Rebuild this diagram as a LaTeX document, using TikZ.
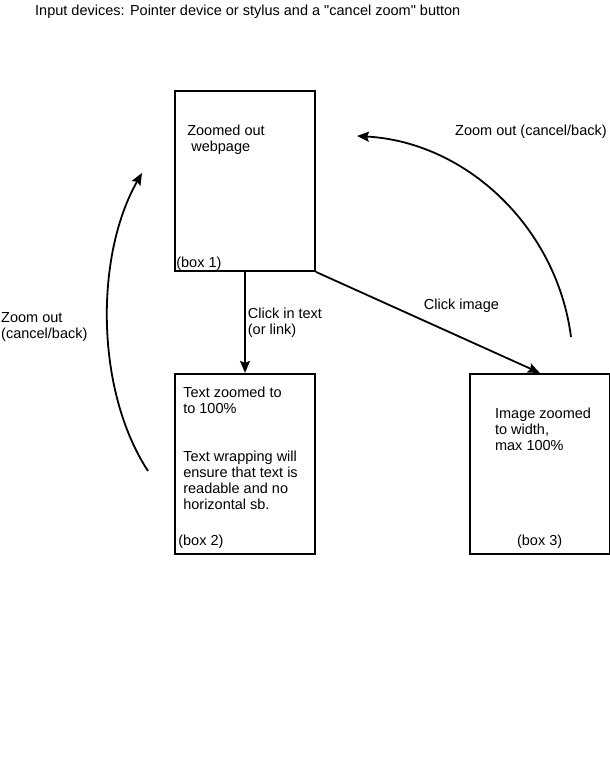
\documentclass[tikz,border=0pt]{standalone}
\usepackage{fontspec}
\setmainfont{Liberation Sans}[Ligatures=TeXOff]
\usetikzlibrary{arrows.meta, positioning}

\begin{document}
\begin{tikzpicture}[x=1pt, y=-1pt, font=\fontsize{14.5}{16}\selectfont]

        % Define style
        \tikzstyle{zoombox} = [rectangle, draw, line width=1.8pt, minimum width=140pt, minimum height=180pt]
        \tikzstyle{txt} = [inner sep=0pt, align=left]
        \tikzstyle{zoomarrow} = [line width=1.8pt, -{Stealth[length=12pt, width=10pt, inset=2pt]}]

        \useasboundingbox (0,0) rectangle (610,758);

        % Title
        \node[txt, anchor=north west] (title) at (35,5) {Input devices: Pointer device or stylus and a "cancel zoom" button};

        % Boxes
        \node[zoombox] (box1) at (245,181) {};
        \node[zoombox, below=101pt of box1] (box2) {};
        \node[zoombox, right=153pt of box2] (box3) {};

        % Box texts
        \node[txt, below right=35pt and 13pt of box1.north west] (webtext) {Zoomed out\\~webpage};
        \node[txt, above right=1pt and 2pt of box1.south west] (box1lab) {(box 1)};
        \node[txt, below right=14pt and 9pt of box2.north west] (texttext) {Text zoomed to\\to 100\%\\[32pt]Text wrapping will\\ensure that text is\\readable and no\\horizontal sb.};
        \node[txt, above right=6pt and 4pt of box2.south west] (box2lab) {(box 2)};
        \node[txt, below right=35pt and 26pt of box3.north west] (imgtext) {Image zoomed\\to width,\\max 100\%};
        \node[txt, above right=6pt and 48pt of box3.south west] (box3lab) {(box 3)};

        % Clicks
        \draw[zoomarrow] (box1) -- node[txt, right=2pt] (clicktext) {Click in text\\(or link)} (box2);
        \draw[zoomarrow] (box1.south east) -- node[txt, pos=0.65, above=24pt] (clickimg) {Click image} (box3.north);

        % Zoom out (back to box 1)
        \coordinate (rback0) at (571,337);
        \coordinate (rback1) at (357,136);
        \draw[zoomarrow] (rback0) .. controls (557,228) and (467,142) .. (rback1);
        \node[txt, anchor=north west] (zoomright) at (455,125) {Zoom out (cancel/back)};

        \coordinate (lback0) at (148,471);
        \coordinate (lback1) at (142,173);
        \draw[zoomarrow] (lback0) .. controls (95,390) and (95,255) .. (lback1);
        \node[txt, anchor=north west] (zoomleft) at (1,312) {Zoom out\\(cancel/back)};

    \end{tikzpicture}
\end{document}
